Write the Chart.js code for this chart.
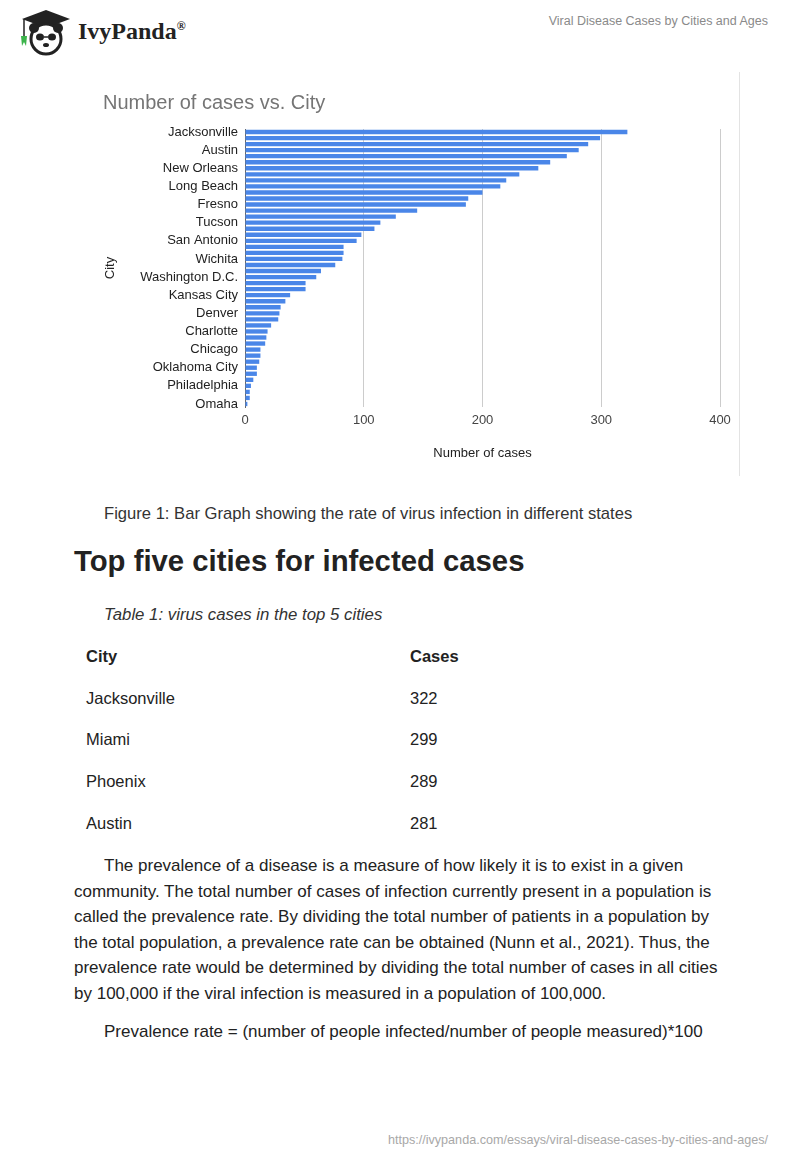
<!DOCTYPE html>
<html>
<head>
<meta charset="utf-8">
<title>Viral Disease Cases by Cities and Ages</title>
<script src="https://cdn.jsdelivr.net/npm/chart.js@4.4.1/dist/chart.umd.min.js"></script>
<style>
    body { margin: 0; width: 800px; height: 1160px; background: #fff; font-family: "Liberation Sans", Arial, sans-serif; color: #222; position: relative; overflow: hidden; }
    .abs { position: absolute; }
    #brand { left: 78px; top: 18px; font-family: "Liberation Serif", "DejaVu Serif", serif; font-weight: bold; font-size: 24px; color: #222; }
    #brand sup { font-size: 12px; }
    #docTitle { right: 32px; top: 14px; font-size: 12.5px; color: #8a8a8a; }
    #frame { left: 739px; top: 72px; width: 1px; height: 404px; background: #e3e3e3; }
    #chartBox { left: 100px; top: 88px; width: 640px; height: 385px; }
    #caption { left: 104px; top: 504px; font-size: 16.6px; color: #333; }
    h2 { position: absolute; left: 74px; top: 544px; margin: 0; font-size: 29.3px; font-weight: bold; color: #222; }
    #tableCaption { left: 104px; top: 605px; font-size: 16.8px; font-style: italic; color: #333; }
    table { position: absolute; left: 86px; top: 647px; border-collapse: collapse; font-size: 16.5px; color: #222; }
    td, th { padding: 0; height: 41.7px; text-align: left; vertical-align: top; }
    th { font-weight: bold; }
    td:first-child, th:first-child { width: 324px; }
    #body { left: 74px; top: 853px; width: 652px; font-size: 17px; line-height: 25.5px; color: #222; }
    #body p { margin: 0; text-indent: 30px; }
    #body p + p { margin-top: 13px; }
    #url { right: 32px; top: 1133px; font-size: 12.6px; color: #a8a8a8; }
</style>
</head>
<body>
<svg class="abs" style="left:12px;top:6px" width="64" height="50" viewBox="0 0 64 50">
    <polygon points="34,4 58,13 34,22 10,13" fill="#222"/>
    <rect x="24" y="14" width="20" height="9" fill="#222"/>
    <line x1="12" y1="13" x2="12" y2="32" stroke="#222" stroke-width="1.5"/>
    <path d="M9,30 L15,30 L14,40 L12,36 L10,40 Z" fill="#3cb44b"/>
    <circle cx="34" cy="33" r="15" fill="#fff" stroke="#222" stroke-width="3"/>
    <circle cx="22" cy="22" r="5" fill="#222"/>
    <circle cx="46" cy="22" r="5" fill="#222"/>
    <ellipse cx="28" cy="31" rx="4" ry="3.5" fill="#222"/>
    <ellipse cx="40" cy="31" rx="4" ry="3.5" fill="#222"/>
    <line x1="32" y1="31" x2="36" y2="31" stroke="#222" stroke-width="1.5"/>
    <ellipse cx="34" cy="39" rx="3" ry="2" fill="#222"/>
</svg>
<div id="brand" class="abs">IvyPanda<sup>®</sup></div>
<div id="docTitle" class="abs">Viral Disease Cases by Cities and Ages</div>
<div id="frame" class="abs"></div>
<div id="chartBox" class="abs"><canvas id="casesChart" width="640" height="385"></canvas></div>
<div id="caption" class="abs">Figure 1: Bar Graph showing the rate of virus infection in different states</div>
<h2>Top five cities for infected cases</h2>
<div id="tableCaption" class="abs">Table 1: virus cases in the top 5 cities</div>
<table id="topTable"></table>
<div id="body" class="abs">
    <p>The prevalence of a disease is a measure of how likely it is to exist in a given community. The total number of cases of infection currently present in a population is called the prevalence rate. By dividing the total number of patients in a population by the total population, a prevalence rate can be obtained (Nunn et al., 2021). Thus, the prevalence rate would be determined by dividing the total number of cases in all cities by 100,000 if the viral infection is measured in a population of 100,000.</p>
    <p>Prevalence rate = (number of people infected/number of people measured)*100</p>
</div>
<div id="url" class="abs">https://ivypanda.com/essays/viral-disease-cases-by-cities-and-ages/</div>

<script>
// only every third city name is printed on the axis
const cities = [
    'Jacksonville', 'Miami', 'Phoenix', 'Austin', 'Dallas', 'Houston',
    'New Orleans', 'Los Angeles', 'San Diego', 'Long Beach', 'Sacramento', 'Las Vegas',
    'Fresno', 'Albuquerque', 'El Paso', 'Tucson', 'Fort Worth', 'Memphis',
    'San Antonio', 'Tulsa', 'Atlanta', 'Wichita', 'Baltimore', 'Boston',
    'Washington D.C.', 'Columbus', 'Indianapolis', 'Kansas City', 'Colorado Springs', 'Aurora',
    'Denver', 'Nashville', 'Raleigh', 'Charlotte', 'Detroit', 'Milwaukee',
    'Chicago', 'Minneapolis', 'St. Louis', 'Oklahoma City', 'Louisville', 'New York',
    'Philadelphia', 'Portland', 'Seattle', 'Omaha'
];
const cases = [
    322, 299, 289, 281, 271, 257,
    247, 231, 220, 215, 200, 188,
    186, 145, 127, 114, 109, 98,
    94, 83, 83, 82, 76, 64,
    60, 51, 51, 38, 34, 30,
    29, 28, 22, 19, 18, 17,
    13, 13, 12, 10, 10, 7,
    5, 4, 4, 2
];
const xTicks = [0, 100, 200, 300, 400];

const topCities = ['Jacksonville', 'Miami', 'Phoenix', 'Austin'];
const topCases = [322, 299, 289, 281];

document.addEventListener('DOMContentLoaded', () => {
    const table = document.querySelector('#topTable');
    table.innerHTML = '<tr><th>City</th><th>Cases</th></tr>' +
        topCities.map((c, i) => `<tr><td>${c}</td><td>${topCases[i]}</td></tr>`).join('');

    const font = '"Liberation Sans", Arial, sans-serif';
    const ctx = document.getElementById('casesChart').getContext('2d');
    new Chart(ctx, {
        type: 'bar',
        data: {
            labels: cities,
            datasets: [{
                label: 'Number of cases',
                data: cases,
                backgroundColor: '#4a86e8',
                barPercentage: 0.72,
                categoryPercentage: 1
            }]
        },
        options: {
            indexAxis: 'y',
            responsive: false,
            animation: false,
            devicePixelRatio: 1,
            layout: { padding: { left: 3, right: 20, top: 0, bottom: 0 } },
            plugins: {
                legend: { display: false },
                tooltip: { enabled: false },
                title: {
                    display: true,
                    text: 'Number of cases vs. City',
                    align: 'start',
                    color: '#757575',
                    font: { family: font, size: 20, weight: 'normal' },
                    padding: { top: 3, bottom: 14 }
                }
            },
            scales: {
                x: {
                    min: xTicks[0],
                    max: xTicks[xTicks.length - 1],
                    afterBuildTicks: scale => { scale.ticks = xTicks.map(v => ({ value: v })); },
                    afterFit: scale => { scale.height = 66; },
                    ticks: { color: '#444', font: { family: font, size: 13 }, padding: 6 },
                    grid: {
                        color: c => c.tick && c.tick.value === 0 ? 'rgba(0,0,0,0)' : '#cccccc',
                        drawTicks: false
                    },
                    border: { display: false },
                    title: {
                        display: true,
                        text: 'Number of cases',
                        color: '#222',
                        font: { family: font, size: 13 },
                        padding: { top: 0, bottom: 12 }
                    }
                },
                y: {
                    afterFit: scale => { scale.width = 142; },
                    ticks: {
                        autoSkip: false,
                        color: '#222',
                        font: { family: font, size: 13 },
                        padding: 7,
                        callback: (v, i) => i % 3 === 0 ? cities[i] : ''
                    },
                    grid: { display: false, drawTicks: false },
                    border: { color: '#666', width: 1 },
                    title: {
                        display: true,
                        text: 'City',
                        color: '#222',
                        font: { family: font, size: 13 },
                        padding: 0
                    }
                }
            }
        }
    });
});
</script>
</body>
</html>
